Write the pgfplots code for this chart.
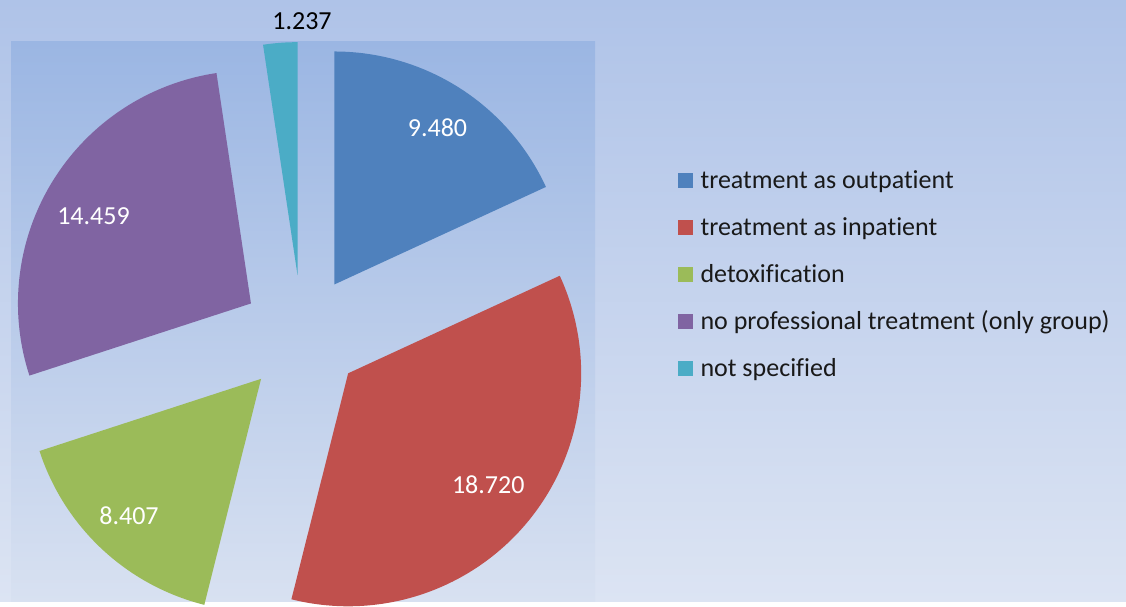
\documentclass[border=0pt]{standalone}
\usepackage{fontspec}
\setmainfont{Carlito}[Ligatures=NoCommon]
\usepackage{pgfplots}
\pgfplotsset{compat=1.18}

\definecolor{sA}{HTML}{4F81BD}
\definecolor{sB}{HTML}{C0504D}
\definecolor{sC}{HTML}{9BBB59}
\definecolor{sD}{HTML}{8064A2}
\definecolor{sE}{HTML}{4BACC6}
\definecolor{bgT}{HTML}{AFC3E8}
\definecolor{bgB}{HTML}{DCE4F3}
\definecolor{paT}{HTML}{9BB6E3}
\definecolor{paB}{HTML}{D8E1F1}

% slice values, in thousands
\def\vA{9.480}
\def\vB{18.720}
\def\vC{8.407}
\def\vD{14.459}
\def\vE{1.237}
\pgfmathsetmacro\tot{\vA+\vB+\vC+\vD+\vE}
% clockwise from the top
\pgfmathsetmacro\aA{90}
\pgfmathsetmacro\aB{\aA-360*\vA/\tot}
\pgfmathsetmacro\aC{\aB-360*\vB/\tot}
\pgfmathsetmacro\aD{\aC-360*\vC/\tot}
\pgfmathsetmacro\aE{\aD-360*\vD/\tot}
\pgfmathsetmacro\aF{\aE-360*\vE/\tot}
\def\ex{0.2575}% explosion
% label = slice apex + r*(cos,sin)(bisector+tweak)
\newcommand{\lab}[5]{% #1,#2 slice angles, #3 r, #4 angle tweak, #5 name
  \pgfmathsetmacro\tmpm{(#1+#2)/2}%
  \pgfmathsetmacro\tmpx{\ex*cos(\tmpm)+#3*cos(\tmpm+#4)}%
  \pgfmathsetmacro\tmpy{\ex*sin(\tmpm)+#3*sin(\tmpm+#4)}%
  \expandafter\let\csname lx#5\endcsname\tmpx
  \expandafter\let\csname ly#5\endcsname\tmpy}
\lab{\aA}{\aB}{0.806}{-0.7}{A}
\lab{\aB}{\aC}{0.767}{1.3}{B}
\lab{\aC}{\aD}{0.817}{-0.9}{C}
\lab{\aD}{\aE}{0.773}{2.7}{D}

\newcommand{\slice}[3]{%
  \addplot[draw=none, fill=#3, samples at={-1,0,1,...,120}, variable=\u]
    ({\ex*cos((#1+#2)/2)+(\u>=0)*cos(#1+(#2-#1)*\u/120)},
     {\ex*sin((#1+#2)/2)+(\u>=0)*sin(#1+(#2-#1)*\u/120)});
}

\begin{document}
\begin{tikzpicture}
\shade[top color=bgT, bottom color=bgB] (0,0) rectangle (563pt,301pt);
\shade[top color=paT, bottom color=paB] (5.5pt,0) rectangle (297.5pt,280pt);
\begin{axis}[
  at={(0,0)}, anchor=south west,
  scale only axis,
  x=116.5pt, y=116.5pt,
  xmin=-1.2961, xmax=3.5365,
  ymin=-1.1459, ymax=1.4378,
  hide axis,
  clip=false,
  font=\fontsize{13}{15.6}\selectfont,
  legend image code/.code={\fill[#1] (0pt,-3pt) rectangle (7.5pt,4.5pt);},
  legend cell align=left,
  legend style={
    at={(0.6021,0.7199)}, anchor=north west,
    draw=none, fill=none, inner sep=0pt, outer sep=0pt,
    text=black!90,
    font=\fontsize{13}{15.6}\selectfont,
    row sep=10.5pt,
    nodes={inner sep=0pt, text height=10pt, text depth=3pt},
    /tikz/every odd column/.append style={column sep=3.8pt},
  },
]
\slice{\aA}{\aB}{sA}
\addlegendentry{treatment as outpatient}
\slice{\aB}{\aC}{sB}
\addlegendentry{treatment as inpatient}
\slice{\aC}{\aD}{sC}
\addlegendentry{detoxification}
\slice{\aD}{\aE}{sD}
\addlegendentry{no professional treatment (only group)}
\slice{\aE}{\aF}{sE}
\addlegendentry{not specified}

\node[text=white] at (axis cs:\lxA,\lyA) {9.480};
\node[text=white] at (axis cs:\lxB,\lyB) {18.720};
\node[text=white] at (axis cs:\lxC,\lyC) {8.407};
\node[text=white] at (axis cs:\lxD,\lyD) {14.459};
\node[text=black] at (axis cs:0,1.345) {1.237};
\end{axis}
\end{tikzpicture}
\end{document}
